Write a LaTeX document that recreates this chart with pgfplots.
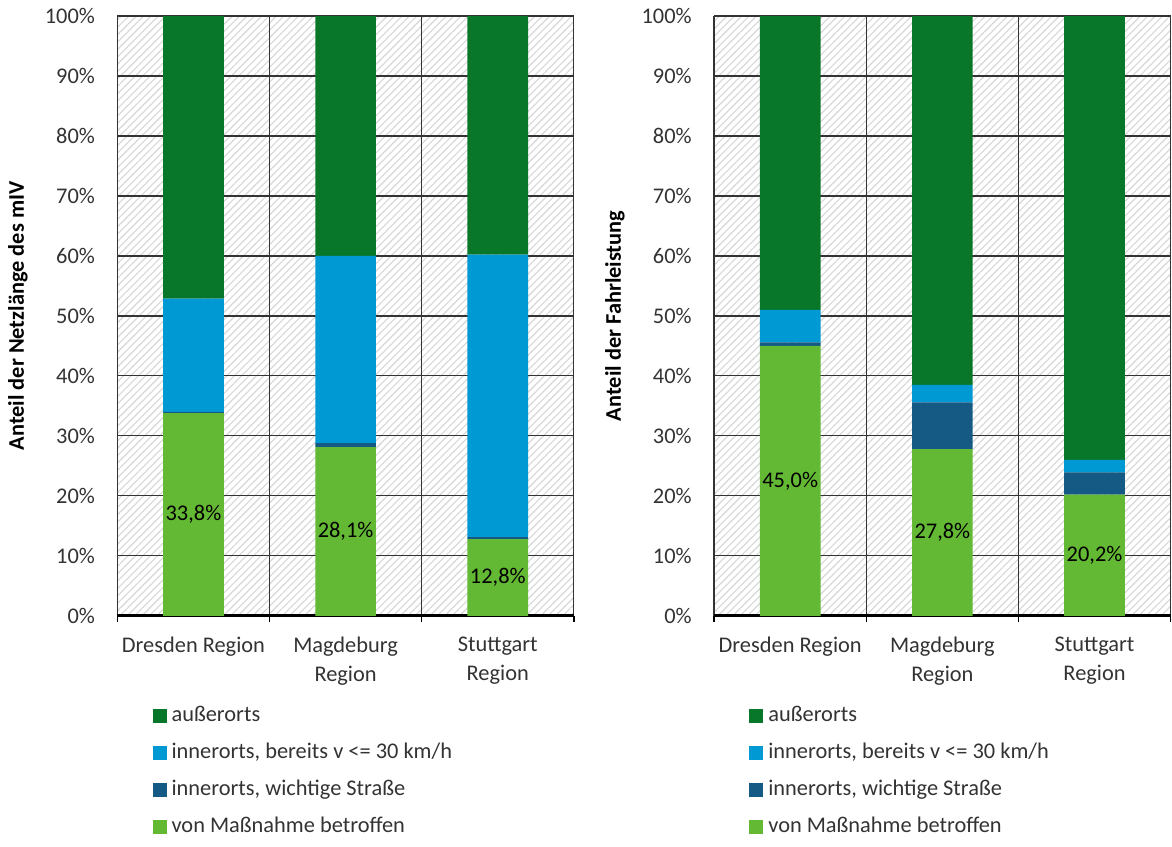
\documentclass[border=0pt]{standalone}
\usepackage{fontspec}
\setmainfont{Carlito}
\usepackage{pgfplots}
\pgfplotsset{compat=1.18}
\usetikzlibrary{patterns.meta}

\definecolor{cdkgreen}{RGB}{9,119,42}
\definecolor{cltblue}{RGB}{0,153,212}
\definecolor{cdkblue}{RGB}{20,90,132}
\definecolor{cgreen}{RGB}{99,185,52}
\definecolor{ctext}{RGB}{51,51,51}

\pgfplotsset{
  regionbars/.style={
    width=183.6pt, height=241.2pt, scale only axis,
    ybar stacked, bar width=24.4pt,
    xmin=-0.5, xmax=2.5, ymin=0, ymax=100,
    xtick={0,1,2},
    xticklabels={Dresden Region, {Magdeburg\\Region}, {Stuttgart\\Region}},
    xticklabel style={align=center, text=ctext, yshift=-5pt, font=\fontsize{9}{11.6}\selectfont},
    minor xtick={-0.5,0.5,1.5,2.5},
    ytick={0,10,...,100},
    yticklabel={\pgfmathprintnumber{\tick}\%},
    yticklabel style={text=ctext, xshift=-5.5pt},
    /pgf/number format/assume math mode=true,
    ymajorgrids, xminorgrids,
    major grid style={black!80, line width=0.5pt},
    minor grid style={black!80, line width=0.5pt},
    axis lines*=left,
    y axis line style={draw=none},
    x axis line style={black, line width=1.1pt},
    tick align=outside,
    major tick length=0pt, minor tick length=2.6pt,
    every tick/.style={black, line width=0.6pt},
    axis background/.style={pattern={Lines[angle=45,distance=2.1pt,line width=0.45pt]}, pattern color=black!16},
    font=\fontsize{9}{11}\selectfont,
    ylabel style={font=\fontsize{9}{11}\selectfont\bfseries, text=black},
    reverse legend,
    legend cell align=left,
    legend style={at={(0.06,-0.134)}, anchor=north west, draw=none, fill=none,
      row sep=3.1pt, font=\fontsize{9}{11}\selectfont, text=ctext},
    legend image code/.code={\fill[#1] (0pt,-2.8pt) rectangle (5.6pt,2.8pt);},
  },
  greenlabels/.style={
    nodes near coords={\pgfmathprintnumber[fixed,fixed zerofill,precision=1,use comma]{\pgfplotspointmeta}\%},
    every node near coord/.append style={anchor=center, text=black},
  },
}

\begin{document}
\begin{tikzpicture}
\begin{axis}[regionbars, ylabel={Anteil der Netzlänge des mIV}]
\addplot[fill=cgreen, draw=none, greenlabels] coordinates {(0,33.8) (1,28.1) (2,12.8)};
\addplot[fill=cdkblue, draw=none] coordinates {(0,0.2) (1,0.7) (2,0.3)};
\addplot[fill=cltblue, draw=none] coordinates {(0,18.9) (1,31.2) (2,47.1)};
\addplot[fill=cdkgreen, draw=none] coordinates {(0,47.1) (1,40.0) (2,39.8)};
\legend{von Maßnahme betroffen, {innerorts, wichtige Straße}, {innerorts, bereits v <= 30 km/h}, außerorts}
\end{axis}
\begin{axis}[regionbars, at={(240pt,0)}, ylabel={Anteil der Fahrleistung}]
\addplot[fill=cgreen, draw=none, greenlabels] coordinates {(0,45.0) (1,27.8) (2,20.2)};
\addplot[fill=cdkblue, draw=none] coordinates {(0,0.6) (1,7.8) (2,3.7)};
\addplot[fill=cltblue, draw=none] coordinates {(0,5.4) (1,2.9) (2,2.1)};
\addplot[fill=cdkgreen, draw=none] coordinates {(0,49.0) (1,61.5) (2,74.0)};
\legend{von Maßnahme betroffen, {innerorts, wichtige Straße}, {innerorts, bereits v <= 30 km/h}, außerorts}
\end{axis}
\end{tikzpicture}
\end{document}
